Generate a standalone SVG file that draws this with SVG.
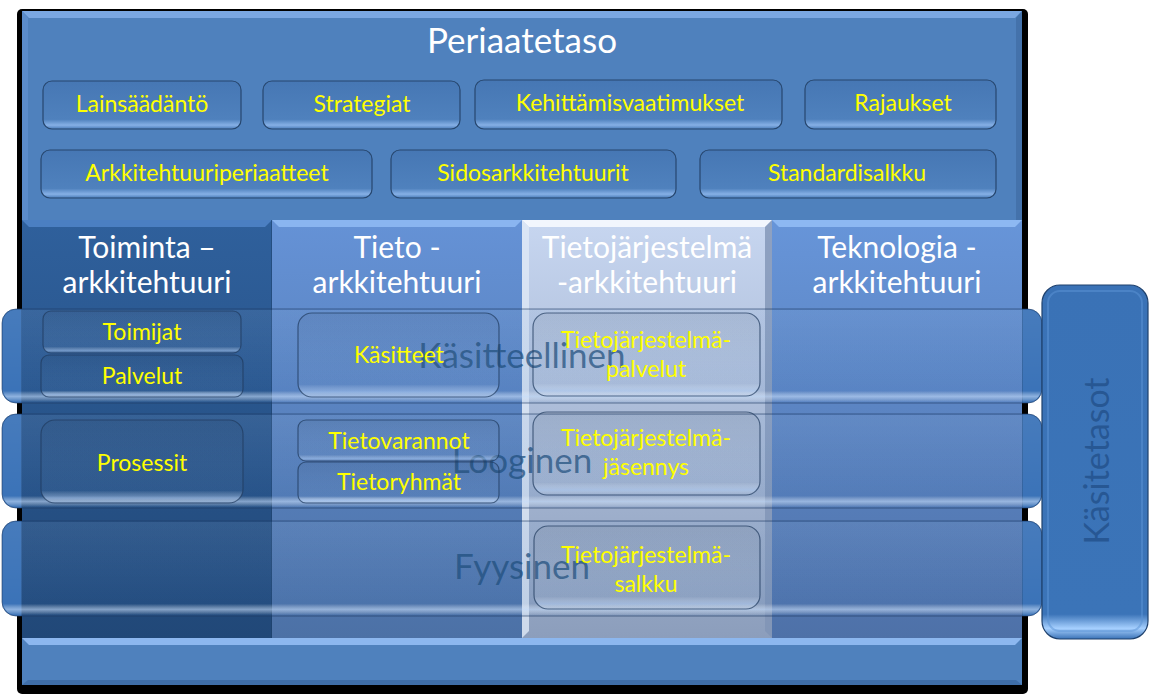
<svg xmlns="http://www.w3.org/2000/svg" width="1151" height="699" viewBox="0 0 1151 699">
<defs>
<style>
.t{font-family:Lato,"Noto Sans","Liberation Sans",sans-serif}
.y{fill:#ffff00;font-size:23px;text-anchor:middle}
.w{fill:#ffffff;text-anchor:middle}
.hd{font-size:30px}
.bt{fill:#21507f;fill-opacity:0.75;font-size:35px;text-anchor:middle}
.pb{stroke:#27476f;stroke-width:1.2}
.ib{fill:url(#glass);stroke:#1f3a5e;stroke-opacity:0.7;stroke-width:1.2}
</style>
<linearGradient id="pbox" x1="0" y1="0" x2="0" y2="1">
<stop offset="0" stop-color="#4677b4"/>
<stop offset="0.8" stop-color="#4f81bd"/>
<stop offset="0.92" stop-color="#86b0e6"/>
<stop offset="1" stop-color="#4a7cb9"/>
</linearGradient>
<linearGradient id="glass" x1="0" y1="0" x2="0" y2="1">
<stop offset="0" stop-color="#000000" stop-opacity="0.06"/>
<stop offset="0.85" stop-color="#ffffff" stop-opacity="0.03"/>
<stop offset="0.94" stop-color="#bcd8ff" stop-opacity="0.45"/>
<stop offset="1" stop-color="#ffffff" stop-opacity="0"/>
</linearGradient>
<linearGradient id="c1" x1="0" y1="0" x2="0" y2="1">
<stop offset="0" stop-color="#2f609c"/>
<stop offset="1" stop-color="#214878"/>
</linearGradient>
<linearGradient id="c2" x1="0" y1="0" x2="0" y2="1">
<stop offset="0" stop-color="#6592d6"/>
<stop offset="1" stop-color="#4c71a6"/>
</linearGradient>
<linearGradient id="c3" x1="0" y1="0" x2="0" y2="1">
<stop offset="0" stop-color="#c7d6f0"/>
<stop offset="1" stop-color="#8c9ebc"/>
</linearGradient>
<linearGradient id="c4" x1="0" y1="0" x2="0" y2="1">
<stop offset="0" stop-color="#6795d9"/>
<stop offset="1" stop-color="#4e71a8"/>
</linearGradient>
<linearGradient id="band" gradientUnits="userSpaceOnUse" x1="0" y1="0" x2="1151" y2="0">
<stop offset="0" stop-color="#3b73b8"/>
<stop offset="0.0185" stop-color="#3b73b8"/>
<stop offset="0.0195" stop-color="#3b73b8" stop-opacity="0.1"/>
<stop offset="0.8875" stop-color="#3b73b8" stop-opacity="0.1"/>
<stop offset="0.8885" stop-color="#3b73b8"/>
<stop offset="1" stop-color="#3b73b8"/>
</linearGradient>
<linearGradient id="bandsh" x1="0" y1="0" x2="0" y2="1">
<stop offset="0" stop-color="#ffffff" stop-opacity="0.06"/>
<stop offset="0.88" stop-color="#ffffff" stop-opacity="0"/>
<stop offset="0.94" stop-color="#cfe4ff" stop-opacity="0.55"/>
<stop offset="1" stop-color="#ffffff" stop-opacity="0"/>
</linearGradient>
<linearGradient id="side" x1="0" y1="0" x2="0" y2="1">
<stop offset="0" stop-color="#3a72b6"/>
<stop offset="0.93" stop-color="#3b74b8"/>
<stop offset="0.97" stop-color="#a6d0ff"/>
<stop offset="1" stop-color="#3a72b6"/>
</linearGradient>
</defs>

<g id="frame">
<rect x="17" y="9" width="1011" height="685" rx="5" fill="#000000"/>
<rect x="22" y="11" width="1000" height="674" fill="#4f81bd"/>
<polygon points="22,11 1022,11 1015,18 29,18" fill="#7aa7e2"/>
<polygon points="1022,11 1022,685 1016,679 1016,18" fill="#4472ab"/>
<polygon points="22,11 22,685 28,679 28,18" fill="#5b8ccb"/>
<text class="t w" x="522" y="53" font-size="35">Periaatetaso</text>
</g>

<g id="p-lainsaadanto"><rect class="pb" x="43" y="81" width="198" height="48" rx="9" fill="url(#pbox)"/><text class="t y" x="142" y="112">Lainsäädäntö</text></g>
<g id="p-strategiat"><rect class="pb" x="263" y="81" width="197" height="48" rx="9" fill="url(#pbox)"/><text class="t y" x="362" y="112">Strategiat</text></g>
<g id="p-kehittamis"><rect class="pb" x="475" y="80" width="307" height="49" rx="9" fill="url(#pbox)"/><text class="t y" x="630" y="111">Kehittämisvaatimukset</text></g>
<g id="p-rajaukset"><rect class="pb" x="805" y="80" width="191" height="49" rx="9" fill="url(#pbox)"/><text class="t y" x="903" y="111">Rajaukset</text></g>
<g id="p-arkkitehtuuriperiaatteet"><rect class="pb" x="41" y="150" width="331" height="48" rx="9" fill="url(#pbox)"/><text class="t y" x="207" y="181">Arkkitehtuuriperiaatteet</text></g>
<g id="p-sidos"><rect class="pb" x="391" y="150" width="285" height="48" rx="9" fill="url(#pbox)"/><text class="t y" x="533" y="181">Sidosarkkitehtuurit</text></g>
<g id="p-standardi"><rect class="pb" x="700" y="150" width="296" height="48" rx="9" fill="url(#pbox)"/><text class="t y" x="847" y="181">Standardisalkku</text></g>

<g id="col-toiminta">
<rect x="22" y="220" width="250" height="418" fill="url(#c1)"/>
<polygon points="22,220 272,220 265,227 29,227" fill="#4b7fc2"/>
<line x1="272" y1="220" x2="272" y2="638" stroke="#1d3e66" stroke-width="1"/>
<text class="t w hd" x="147" y="258">Toiminta –</text>
<text class="t w hd" x="147" y="293">arkkitehtuuri</text>
</g>
<g id="col-tieto">
<rect x="272" y="220" width="250" height="418" fill="url(#c2)"/>
<polygon points="272,220 522,220 515,227 279,227" fill="#8ab5f0"/>
<text class="t w hd" x="397" y="258">Tieto -</text>
<text class="t w hd" x="397" y="293">arkkitehtuuri</text>
</g>
<g id="col-tietojarjestelma">
<rect x="522" y="220" width="250" height="418" fill="url(#c3)"/>
<polygon points="522,220 772,220 765,227 529,227" fill="#f2f6fd"/>
<polygon points="522,220 529,227 529,631 522,638" fill="#dfe8f6" opacity="0.8"/>
<polygon points="772,220 765,227 765,631 772,638" fill="#7f93b5" opacity="0.8"/>
<text class="t w hd" x="647" y="258">Tietojärjestelmä</text>
<text class="t w hd" x="647" y="293">-arkkitehtuuri</text>
</g>
<g id="col-teknologia">
<rect x="772" y="220" width="250" height="418" fill="url(#c4)"/>
<polygon points="772,220 1022,220 1015,227 779,227" fill="#8db8f2"/>
<text class="t w hd" x="897" y="258">Teknologia -</text>
<text class="t w hd" x="897" y="293">arkkitehtuuri</text>
</g>

<g id="bottom-bar">
<rect x="22" y="638" width="1000" height="47" fill="#4f81bd"/>
<polygon points="22,638 1022,638 1015,645 29,645" fill="#8cb7ef"/>
<polygon points="22,685 1022,685 1016,680 28,680" fill="#3f6ea8"/>
</g>

<g id="band-kasitteellinen">
<rect x="2" y="309" width="1040" height="94" rx="14" fill="url(#band)" stroke="#1e3b63" stroke-opacity="0.6"/>
<rect x="3" y="310" width="1038" height="92" rx="13" fill="url(#bandsh)"/>
<text class="t bt" x="522" y="368">Käsitteellinen</text>
</g>
<g id="band-looginen">
<rect x="2" y="414" width="1040" height="94" rx="14" fill="url(#band)" stroke="#1e3b63" stroke-opacity="0.6"/>
<rect x="3" y="415" width="1038" height="92" rx="13" fill="url(#bandsh)"/>
<text class="t bt" x="522" y="473">Looginen</text>
</g>
<g id="band-fyysinen">
<rect x="2" y="521" width="1040" height="95" rx="14" fill="url(#band)" stroke="#1e3b63" stroke-opacity="0.6"/>
<rect x="3" y="522" width="1038" height="93" rx="13" fill="url(#bandsh)"/>
<text class="t bt" x="522" y="579">Fyysinen</text>
</g>

<g id="kasitetasot">
<rect x="1042" y="285" width="106" height="354" rx="18" fill="url(#side)" stroke="#1f416d" stroke-width="1.2"/>
<rect x="1048" y="291" width="94" height="340" rx="12" fill="none" stroke="#5b93d6" stroke-opacity="0.5" stroke-width="2"/>
<text class="t" transform="translate(1109,461) rotate(-90)" text-anchor="middle" font-size="34" fill="#22508a" fill-opacity="0.8">Käsitetasot</text>
</g>

<g id="n-toimijat"><rect class="ib" x="43" y="311" width="198" height="42" rx="8"/><text class="t y" x="142" y="340">Toimijat</text></g>
<g id="n-palvelut"><rect class="ib" x="41" y="355" width="202" height="42" rx="8"/><text class="t y" x="142" y="384">Palvelut</text></g>
<g id="n-kasitteet"><rect class="ib" x="298" y="313" width="201" height="84" rx="14"/><text class="t y" x="399" y="363">Käsitteet</text></g>
<g id="n-prosessit"><rect class="ib" x="41" y="420" width="202" height="83" rx="14"/><text class="t y" x="142" y="471">Prosessit</text></g>
<g id="n-tietovarannot"><rect class="ib" x="298" y="420" width="201" height="41" rx="8"/><text class="t y" x="399" y="449">Tietovarannot</text></g>
<g id="n-tietoryhmat"><rect class="ib" x="298" y="462" width="201" height="41" rx="8"/><text class="t y" x="399" y="490">Tietoryhmät</text></g>
<g id="n-tj-palvelut"><rect class="ib" x="533" y="313" width="227" height="83" rx="14"/><text class="t y" x="646" y="348">Tietojärjestelmä-</text><text class="t y" x="646" y="377">palvelut</text></g>
<g id="n-tj-jasennys"><rect class="ib" x="533" y="412" width="227" height="83" rx="14"/><text class="t y" x="646" y="446">Tietojärjestelmä-</text><text class="t y" x="646" y="475">jäsennys</text></g>
<g id="n-tj-salkku"><rect class="ib" x="534" y="526" width="226" height="83" rx="14"/><text class="t y" x="646" y="563">Tietojärjestelmä-</text><text class="t y" x="646" y="592">salkku</text></g>

<g id="connectors"></g>
</svg>
